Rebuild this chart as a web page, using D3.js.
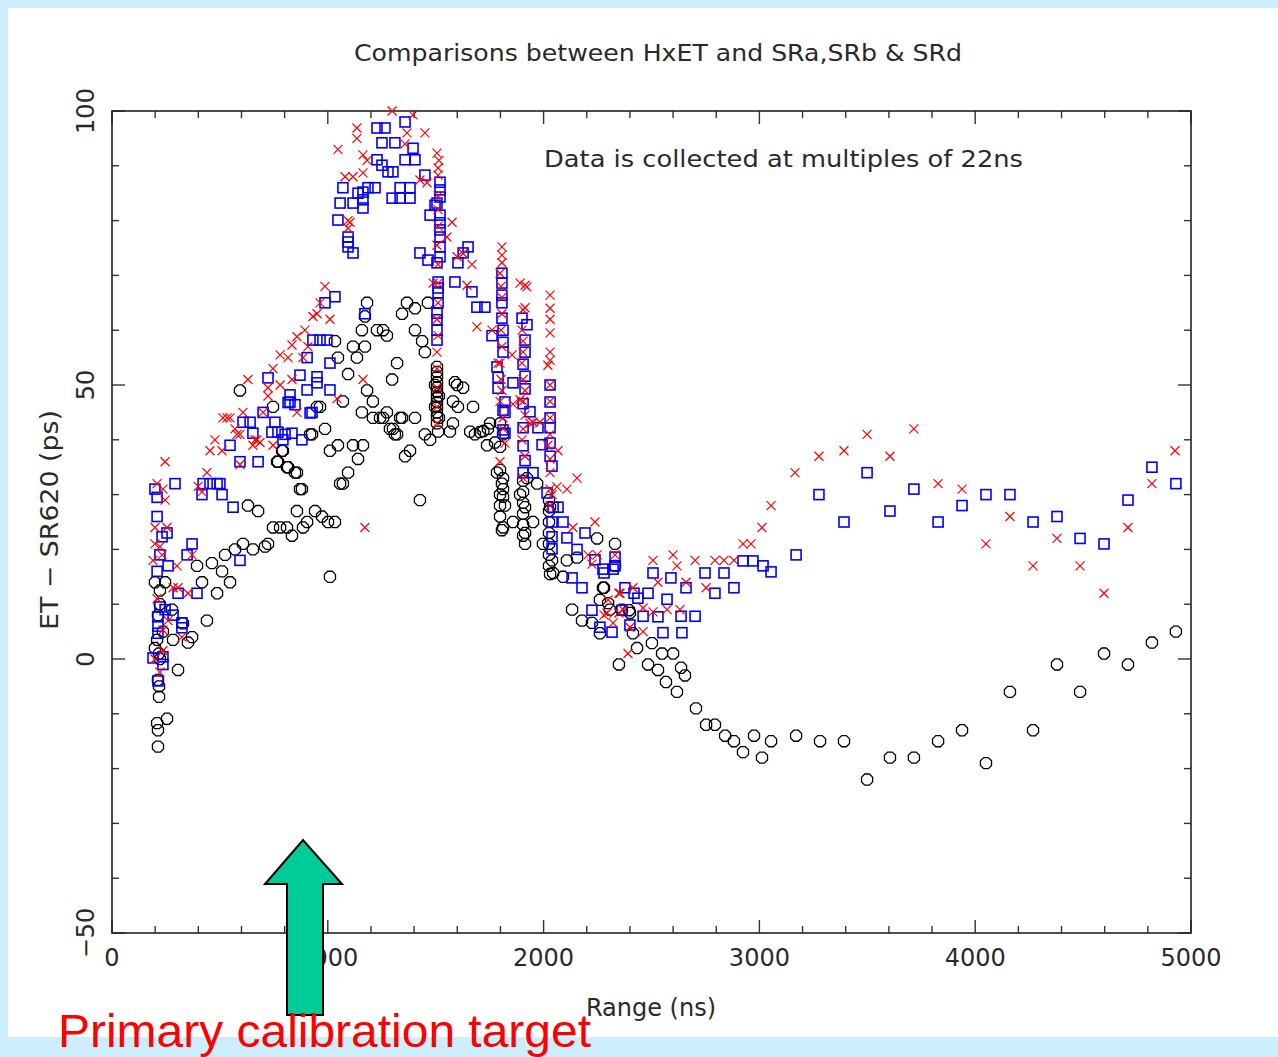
<!DOCTYPE html>
<html>
<head>
<meta charset="utf-8">
<script src="https://cdn.jsdelivr.net/npm/d3@7"></script>
<style>
  body { margin:0; background:#cdeefe; }
  svg text { font-family:"DejaVu Sans", sans-serif; fill:#2a2a2a; }
</style>
</head>
<body>
<div id="chart"></div>
<script>
// x = range (ns), y = ET - SR620 (ps)
var srA = [ // black hexagons
 [213,-16],[209,-11.7],[255,-10.9],[213,-13],[218,-6.9],[218,-5],[213,-3.8],[222,0],[218,1],[199,2],[209,3.5],[283,3.5],
 [306,-2],[352,3],[371,4],[236,5],[440,7],[329,6.5],[213,8],[278,9],[222,10],[222,12.5],[199,14],[246,14],[487,12],
 [417,14],[547,14],[510,16],[394,17],[463,17.5],[524,19],[570,20],[607,21],[653,20],[709,20.5],[723,21],[746,24],
 [779,24],[811,24],[834,22.5],[857,27],[885,24],[904,25],[941,27],[973,26],[1001,25],[1033,25],[630,28],[677,27],
 [880,31],[1010,15],[987,42],[1010,38],[765,36],[811,35],[848,34],[792,38],[746,46],[964,46],[927,41],[1057,32],
 [1182,65],[1367,65],[1464,65],[1344,63],[1404,64],[1172,62.5],[1158,60],[1228,60],[1256,60],[1404,60],[1274,59],
 [1117,57],[1172,57],[1033,58],[1437,58],[1450,56],[1135,55],[1047,55],[1321,54],[1094,52],[1298,51],[1182,49],
 [1070,47],[1209,47],[1158,45],[1274,45],[1242,44],[1344,44],[1404,44],[1302,42],[1321,41],[1450,41],[1474,40],
 [593,49],[950,46],[918,41],[1070,32],[1094,34],[1358,37],[1381,38],[1311,41],[1288,42],[1209,44],[1256,44],
 [1335,44],[1047,39],[1117,39],[1163,39],[1140,36.5],[871,31],[857,34],[816,35],[788,38],[769,36],
 [1506,53.3],[1506,52.4],[1506,51.5],[1506,50.5],[1506,49.6],[1506,48.7],[1506,47.8],[1506,46.9],[1506,46],
 [1506,45],[1506,44.2],[1506,43],[1497,50],[1515,48],[1497,46],[1515,44],[1589,50.5],[1599,50],[1627,49.5],
 [1580,47],[1603,46],[1673,46],[1660,41.5],[1705,41.4],[1742,42],[1721,41.6],[1752,43],[1775,39.5],[1427,29],
 [1511,41.5],[1566,41.5],[1580,43],[1682,41],[1738,39],[1798,43],[1812,41],[1798,38.7],[1784,34],[1798,34.5],
 [1812,33],[1807,32],[1812,31],[1812,29.6],[1821,28],[1812,24],[1858,25],[1798,30],[1798,28],[1798,26],[1807,23.5],
 [1891,30],[1905,32.5],[1905,30.5],[1905,28.5],[1905,26.5],[1905,24.5],[1905,22.5],[1914,27.7],[1914,23],[1914,21],
 [1951,25],[1923,33],[1970,32],[2025,29],[2025,27],[2025,25],[2025,23],[2025,21],[2025,19],[2025,17],[2030,15.5],
 [2030,27.7],[2039,18],[2044,15.7],[1997,21],[2108,18],[2090,15],[2155,18.5],[2248,22],[2331,21],[2331,17],
 [2275,13],[2261,10.8],[2132,9],[2178,7],[2224,6.6],[2261,4.7],[2307,9],[2363,9],[2400,8.4],[2414,4.7],
 [2280,13],[2299,10.2],[2396,8.9],[2433,2],[2502,2.9],[2549,1],[2600,1],[2349,-1],[2484,-1],[2530,-2],[2637,-1.6],
 [2655,-3],[2567,-4.2],[2618,-6],[2706,-9],[2753,-12],[2794,-12],[2841,-14],[2882,-15],[2924,-17],[2975,-14],
 [3012,-18],[3054,-15],[3170,-14],[3281,-15],[3392,-15],[3499,-22],[3605,-18],[3716,-18],[3828,-15],[3939,-13],
 [4050,-19],[4161,-6],[4268,-13],[4379,-1],[4486,-6],[4597,1],[4708,-1],[4819,3],[4930,5]
];
var srB = [ // red crosses
 [246,36],[209,32],[236,31],[246,29],[199,24],[255,24],[199,21],[222,20.5],[232,19],[190,18],[301,17],[371,19],
 [283,13],[306,13],[352,12],[209,11],[260,7],[236,5.3],[324,4],[199,0],[236,1.5],[222,-2.4],[440,34],[399,31.5],
 [417,30.5],[477,40],[454,38],[510,38],[514,44],[547,44],[607,45],[570,42],[593,41],[663,40],[653,39],[686,39.5],
 [746,39],[593,35.5],[700,45],[1043,47.5],[1172,24],
 [1298,100],[1395,99.3],[1135,96.9],[1135,95],[1047,93],[1163,92],[1182,91],[1367,96],[1450,96],[1358,94],
 [1163,88.7],[1080,88],[1117,88],[1094,80],[1094,78.6],[987,68],[964,65],[1010,62],[950,63],[931,62.5],[894,60],
 [857,58.8],[834,57.3],[779,55.5],[908,57],[816,55],[746,53],[630,51],[779,50],[723,48],[834,51],[885,55],
 [1163,51],[533,44],[579,41],[672,40],[857,45],[723,49.5],
 [1427,87.4],[1460,86.9],[1576,79.7],[1103,79.7],[1552,77],[1599,73.4],[1668,72],[1627,74],[1645,68.2],[1488,68.6],
 [1506,92.3],[1515,91],[1511,89.6],[1511,88.3],[1511,84.5],[1511,82],[1511,79],[1506,75.5],[1511,72],[1511,68.6],
 [1511,65],[1506,62],[1511,59],[1506,56],[1506,53],[1506,49.5],[1506,46],[1506,43],
 [1807,75.2],[1807,73.7],[1807,72.3],[1798,70.4],[1803,68],[1807,66],[1807,63],[1803,60],[1807,57],[1798,54],
 [1803,51],[1807,49],[1798,47],[1812,44],[1812,42],[1821,39.4],[1798,36],
 [1891,68.6],[1914,68.2],[1923,67.9],[1914,64.1],[1905,63.7],[1900,60],[1905,58],[1905,56],[1900,54],[1905,51],
 [1914,49],[1905,47],[1914,44.5],[1905,42],[1900,40],[1914,37],[1905,33],[1937,43],[1951,43.2],[1983,43.2],
 [2030,66.4],[2030,64],[2030,62],[2030,59.5],[2030,56],[2030,54.5],[2020,53.6],[2030,50],[2030,47],[2030,44],
 [2030,41],[2020,39],[2030,36.5],[2030,34],[2030,31],[2030,28],
 [1691,60.6],[1761,60],[1854,55.5],[1789,54],[1858,46.5],[1891,47.3],[2067,38],[2155,33],[2108,31],[2062,31.4],
 [2039,30],[2136,24],[2238,25],[2206,19],[2248,19],[2331,19],[2224,17.3],[2354,12],[2414,13],[2507,18],[2600,19],
 [2618,17],[2702,18],[2530,14],[2660,14],[2294,8.4],[2368,9],[2461,9.3],[2507,8.6],[2572,9],[2632,9],[2322,6.6],
 [2400,5.8],[2461,5],[2391,1],[2794,18],[2836,18],[2882,18],[2753,13],[2349,12],[2299,10.8],[2349,8.4],[2280,8],
 [2924,21],[2961,21],[3012,24],[3054,28],[3165,34],[3276,37],[3392,38],[3499,41],[3605,37],[3716,42],[3828,32],
 [3939,31],[4050,21],[4161,26],[4268,17],[4379,22],[4486,17],[4597,12],[4708,24],[4819,32],[4926,38]
];
var srD = [ // blue squares
 [199,31],[209,29.5],[292,32],[209,26],[255,23],[232,22.3],[371,21],[348,19],[222,19],[260,17],[209,16],[417,30],
 [422,32],[454,32],[487,32],[500,32],[510,30],[561,27.7],[593,36],[547,39],[677,36],[593,18],[306,12],[394,12],
 [222,9.5],[246,9],[283,8],[213,7.7],[213,6],[213,4.7],[324,6.6],[324,5.7],[236,0.4],[190,0.2],[236,-1],[213,-4],
 [607,43.2],[640,43.2],[653,41.2],[755,43.2],[741,41.4],[769,41.4],[802,41],[834,41.2],[792,40],[880,40],
 [848,46.4],[927,45],[816,46.8],
 [1358,98],[1228,96.9],[1265,96.9],[1251,94.2],[1311,94.2],[1395,93.2],[1228,91.1],[1251,90.1],[1279,88.9],
 [1302,88.9],[1358,91.1],[1404,91.1],[1070,86],[1057,83.2],[1140,85],[1163,85.2],[1186,86],[1219,86],[1117,83.2],
 [1163,83.8],[1163,82.3],[1298,84.1],[1335,86],[1381,86],[1335,84.1],[1381,84.1],[1450,88.3],[1047,80.1],
 [1094,77],[1094,76.1],[1094,75.2],[1117,74.1],[1474,81],[1497,82.8],[1033,66.1],[987,65],[964,58.2],[996,58.2],
 [931,58.2],[904,55],[1010,54],[871,51.8],[950,51.5],[950,50.4],[825,48.2],[904,49.1],[1010,49.1],[723,51.3],
 [825,46.9],[918,44.9],[1172,63],[700,45],
 [1520,87],[1520,85.6],[1520,84.3],[1506,83.2],[1520,81],[1520,79.6],[1520,78.3],[1520,77],[1520,75.2],[1520,73.4],
 [1506,72.3],[1511,68.8],[1511,67.7],[1511,66.8],[1511,65],[1506,63.1],[1506,61.9],[1506,60],[1506,58.2],
 [1427,74.1],[1464,72.8],[1603,72.3],[1650,75.2],[1627,74.1],[1589,68.8],[1668,67],[1691,64.2],[1728,64.2],[1761,59],
 [1807,70.4],[1807,68.6],[1807,66.4],[1807,65],[1807,62.2],[1812,60],[1812,57.8],[1812,56],[1784,53.3],[1789,51.4],
 [1789,49.4],[1821,46.9],[1821,45],[1821,41.2],[1858,50.4],[1812,45.4],[1812,41.8],
 [1900,62.2],[1923,61],[1914,58.2],[1914,56],[1905,53.8],[1914,51.6],[1914,49.3],[1905,46.6],[1937,45.1],
 [1905,42.2],[1905,38.9],[1914,36.2],[1905,34],[1974,42.2],[1993,39.1],[1951,34],
 [2030,50],[2030,46.9],[2030,44],[2030,42.2],[2030,39.4],[2030,37],[2039,35.2],[2016,30.3],[2044,27.7],[2067,27.7],
 [2039,25],[2039,22.3],[2039,20.1],[2090,25],[2108,22.1],[2192,23],[2155,20],[2238,18.1],[2275,16.4],[2322,16.4],
 [2331,18.6],[2331,17],[2280,15.7],[2377,13],[2419,12],[2437,11.1],[2484,12],[2507,15.7],[2572,10.9],[2590,14.8],
 [2637,7.8],[2660,13],[2702,7.8],[2748,15.7],[2794,12],[2836,15.7],[2882,13],[2924,17.9],[2970,17.9],[3017,17],
 [3054,15.9],[2132,14.8],[2178,13],[2224,8.9],[2261,5.8],[2317,4.9],[2363,8.9],[2400,6.2],[2461,7.8],[2530,7.7],
 [2553,4.8],[2641,4.8],
 [3170,19],[3276,30],[3392,25],[3499,34],[3605,27],[3716,31],[3828,25],[3939,28],[4050,30],[4161,30],[4268,25],
 [4379,26],[4486,22],[4597,21],[4708,29],[4819,35],[4930,32]
];
var xTickLabels = [0, 1000, 2000, 3000, 4000, 5000];
var yTickLabels = [-50, 0, 50, 100];

var W = 1278, H = 1057;
var svg = d3.select("#chart").append("svg").attr("width", W).attr("height", H);
svg.append("rect").attr("x", 8).attr("y", 8).attr("width", W - 8).attr("height", 1029).attr("fill", "#fff");

var x = d3.scaleLinear().domain([0, 5000]).range([112, 1191]);
var y = d3.scaleLinear().domain([-50, 100]).range([933, 111]);

var g = svg.append("g");

// ticks pointing inward on all four sides
var xMinor = d3.range(0, 5001, 200), yMinor = d3.range(-50, 101, 10);
function tlen(v, step) { return v % step === 0 ? 13 : 7; }
g.selectAll(".xb").data(xMinor).enter().append("line")
  .attr("x1", d => x(d)).attr("x2", d => x(d)).attr("y1", 933).attr("y2", d => 933 - tlen(d, 1000))
  .attr("stroke", "#333").attr("stroke-width", 1.4);
g.selectAll(".xt").data(xMinor).enter().append("line")
  .attr("x1", d => x(d)).attr("x2", d => x(d)).attr("y1", 111).attr("y2", d => 111 + tlen(d, 1000))
  .attr("stroke", "#333").attr("stroke-width", 1.4);
g.selectAll(".yl").data(yMinor).enter().append("line")
  .attr("y1", d => y(d)).attr("y2", d => y(d)).attr("x1", 112).attr("x2", d => 112 + tlen(d, 50))
  .attr("stroke", "#333").attr("stroke-width", 1.4);
g.selectAll(".yr").data(yMinor).enter().append("line")
  .attr("y1", d => y(d)).attr("y2", d => y(d)).attr("x1", 1191).attr("x2", d => 1191 - tlen(d, 50))
  .attr("stroke", "#333").attr("stroke-width", 1.4);
g.append("rect").attr("x", 112).attr("y", 111).attr("width", 1079).attr("height", 822)
  .attr("fill", "none").attr("stroke", "#222").attr("stroke-width", 1.6);

// tick labels
g.selectAll(".xl").data(xTickLabels).enter().append("text")
  .attr("x", d => x(d)).attr("y", 966).attr("text-anchor", "middle")
  .style("font-size", "24px").text(d => d);
g.selectAll(".ylab").data(yTickLabels).enter().append("text")
  .attr("transform", d => "translate(94," + y(d) + ") rotate(-90)")
  .attr("text-anchor", "middle").style("font-size", "24px")
  .text(d => d < 0 ? "\u2212" + Math.abs(d) : d);

// titles
svg.append("text").attr("x", 354).attr("y", 61).attr("textLength", 608).attr("lengthAdjust", "spacingAndGlyphs")
  .style("font-size", "23px").text("Comparisons between HxET and SRa,SRb & SRd");
svg.append("text").attr("x", 544).attr("y", 167).attr("textLength", 479).attr("lengthAdjust", "spacingAndGlyphs")
  .style("font-size", "23px").text("Data is collected at multiples of 22ns");
svg.append("text").attr("x", 651).attr("y", 1016).attr("text-anchor", "middle")
  .style("font-size", "24px").text("Range (ns)");
svg.append("text").attr("transform", "translate(58,520) rotate(-90)").attr("text-anchor", "middle")
  .attr("textLength", 220).attr("lengthAdjust", "spacingAndGlyphs")
  .style("font-size", "24px").text("ET \u2212 SR620 (ps)");

// markers
var hex = d3.range(8).map(i => [6 * Math.cos(Math.PI / 4 * i + Math.PI / 8), 6 * Math.sin(Math.PI / 4 * i + Math.PI / 8)]);
var hexPath = "M" + hex.join("L") + "Z";
g.selectAll(".a").data(srA).enter().append("path")
  .attr("transform", d => "translate(" + x(d[0]) + "," + y(d[1]) + ")")
  .attr("d", hexPath).attr("fill", "none").attr("stroke", "#000").attr("stroke-width", 1.3);
g.selectAll(".d").data(srD).enter().append("rect")
  .attr("x", d => x(d[0]) - 5).attr("y", d => y(d[1]) - 5).attr("width", 10).attr("height", 10)
  .attr("fill", "none").attr("stroke", "#0000ff").attr("stroke-width", 1.6);
g.selectAll(".b").data(srB).enter().append("path")
  .attr("transform", d => "translate(" + x(d[0]) + "," + y(d[1]) + ")")
  .attr("d", "M-4.5,-4.5L4.5,4.5M-4.5,4.5L4.5,-4.5").attr("stroke", "#ff0000").attr("stroke-width", 1.2);

// annotation arrow and label
var arrow = [[287, 1015], [287, 884], [265, 884], [303, 840], [342, 884], [323, 884], [323, 1015]];
svg.append("path").attr("d", "M" + arrow.join("L") + "Z")
  .attr("fill", "#00cc99").attr("stroke", "#000").attr("stroke-width", 2);
svg.append("text").attr("x", 58).attr("y", 1047).attr("textLength", 533).attr("lengthAdjust", "spacingAndGlyphs")
  .style("font-family", "'Liberation Sans', Arial, sans-serif").style("font-size", "46px").style("fill", "#ff0000")
  .text("Primary calibration target");
</script>
</body>
</html>
